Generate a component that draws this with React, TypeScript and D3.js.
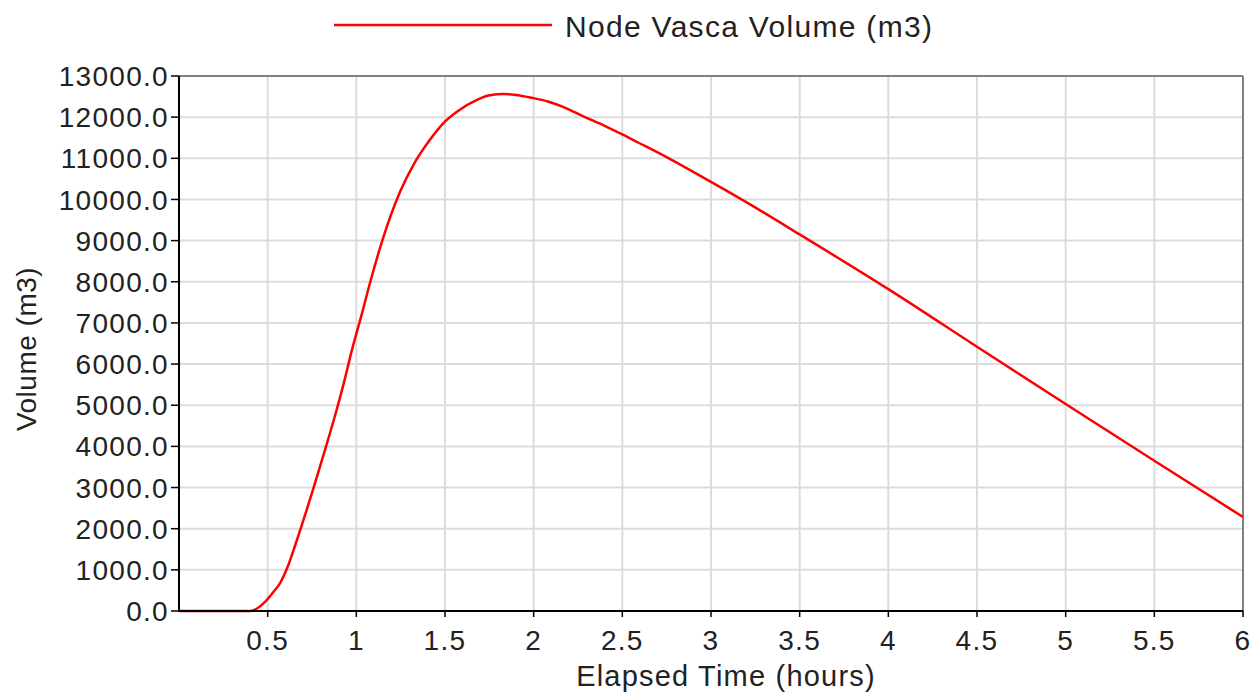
import React from "react";
import * as d3 from "d3";

const times = [0, 0.40, 0.44, 0.485, 0.53, 0.57, 0.61, 0.665, 0.72, 0.767, 0.823, 0.88, 0.93, 0.975, 1.03, 1.077, 1.15, 1.246, 1.33, 1.415, 1.49, 1.567, 1.68, 1.753, 1.83, 1.90, 1.99, 2.08, 2.165, 2.28, 2.40, 2.50, 2.60, 2.77, 2.99, 3.22, 3.5, 4.0, 4.5, 5.0, 5.5, 6.0];
const volumes = [0, 0, 60, 220, 450, 680, 1045, 1725, 2455, 3110, 3910, 4750, 5550, 6340, 7200, 7970, 9050, 10180, 10900, 11450, 11850, 12130, 12420, 12530, 12560, 12540, 12470, 12380, 12250, 12020, 11790, 11580, 11360, 10980, 10450, 9880, 9150, 7820, 6420, 5030, 3650, 2285];
const xTicks = [0.5, 1, 1.5, 2, 2.5, 3, 3.5, 4, 4.5, 5, 5.5, 6];
const yTicks = [0, 1000, 2000, 3000, 4000, 5000, 6000, 7000, 8000, 9000, 10000, 11000, 12000, 13000];
const seriesName = "Node Vasca Volume (m3)";
const xTitle = "Elapsed Time (hours)";
const yTitle = "Volume (m3)";

const W = 1258, H = 692;
const M = { left: 179, right: 1243, top: 76, bottom: 611 };
const FONT = "'Liberation Sans', Arial, sans-serif";

export default function App() {
  const x = d3.scaleLinear().domain([0, 6]).range([M.left, M.right]);
  const y = d3.scaleLinear().domain([0, 13000]).range([M.bottom, M.top]);
  const data = times.map((t, i) => [t, volumes[i]] as [number, number]);
  const line = d3.line<[number, number]>().x(d => x(d[0])).y(d => y(d[1])).curve(d3.curveMonotoneX);

  return (
    <svg width={W} height={H} style={{ position: "absolute", left: 0, top: 0, background: "#fff" }}
      fontFamily={FONT}>
      {xTicks.map(t => (
        <line key={"gx" + t} x1={x(t)} x2={x(t)} y1={M.top} y2={M.bottom} stroke="#dcdcdc" strokeWidth={2} />
      ))}
      {yTicks.map(t => (
        <line key={"gy" + t} x1={M.left} x2={M.right} y1={y(t)} y2={y(t)} stroke="#dcdcdc" strokeWidth={2} />
      ))}
      <line x1={M.left} x2={M.right} y1={M.top} y2={M.top} stroke="#808080" strokeWidth={2} />
      <line x1={M.right} x2={M.right} y1={M.top} y2={M.bottom} stroke="#808080" strokeWidth={2} />
      <path d={line(data) || ""} fill="none" stroke="#ff0000" strokeWidth={2.5} strokeLinejoin="round" />
      <line x1={M.left} x2={M.left} y1={M.top} y2={M.bottom + 1} stroke="#000" strokeWidth={2} />
      <line x1={M.left} x2={M.right} y1={M.bottom} y2={M.bottom} stroke="#000" strokeWidth={2} />
      {yTicks.map(t => (
        <g key={"yt" + t}>
          <line x1={M.left - 8} x2={M.left} y1={y(t)} y2={y(t)} stroke="#000" strokeWidth={1.5} />
          <text x={M.left - 10} y={y(t)} dy="0.36em" textAnchor="end" fontSize={28} letterSpacing={1.3} fill="#222">
            {d3.format(".1f")(t)}
          </text>
        </g>
      ))}
      {xTicks.map(t => (
        <g key={"xt" + t}>
          <line x1={x(t)} x2={x(t)} y1={M.bottom} y2={M.bottom + 6} stroke="#000" strokeWidth={1.5} />
          <text x={x(t)} y={650} textAnchor="middle" fontSize={28} letterSpacing={1.3} fill="#222">
            {String(t)}
          </text>
        </g>
      ))}
      <text x={(M.left + M.right) / 2 + 15} y={686} textAnchor="middle" fontSize={29} letterSpacing={1.2} fill="#222">{xTitle}</text>
      <text transform={`translate(36,349) rotate(-90)`} textAnchor="middle" fontSize={28} letterSpacing={0.5} fill="#222">{yTitle}</text>
      <line x1={334} x2={552} y1={25} y2={25} stroke="#ff0000" strokeWidth={2.5} />
      <text x={565} y={37} fontSize={30} letterSpacing={1.3} fill="#222">{seriesName}</text>
    </svg>
  );
}
